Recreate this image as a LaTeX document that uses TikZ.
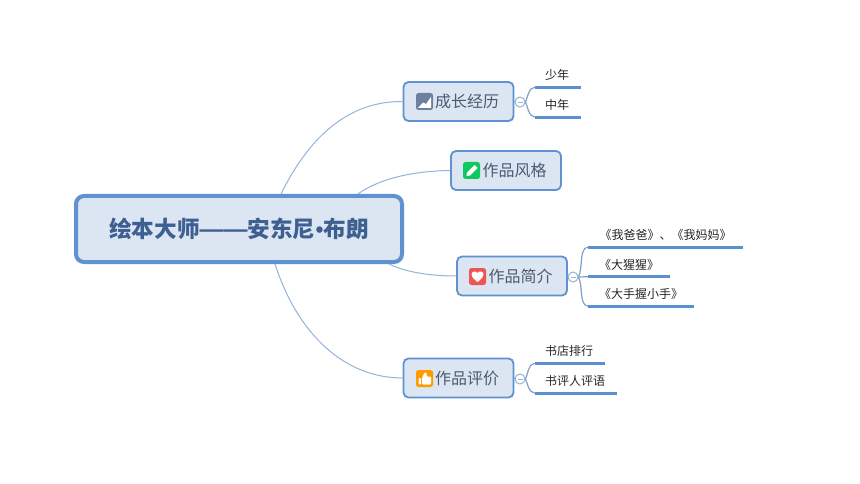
\documentclass[tikz,border=0pt]{standalone}
\usepackage{fontspec}
\setmainfont{Noto Sans CJK SC}
\newfontfamily\latinfont{Liberation Sans}
\definecolor{boxfill}{HTML}{DCE5F2}
\definecolor{boxline}{HTML}{5F92D0}
\definecolor{linkc}{HTML}{94B5DA}
\definecolor{rootc}{HTML}{3D5F91}
\definecolor{branchc}{HTML}{4B5B72}
\definecolor{leafline}{HTML}{5A90D0}
\definecolor{bracec}{HTML}{7FA0C8}
\definecolor{icongrey}{HTML}{6F7F9E}
\definecolor{icongreen}{HTML}{10C860}
\definecolor{iconred}{HTML}{EE5555}
\definecolor{iconorange}{HTML}{FF9A00}
\tikzset{
  x=1pt,y=-1pt,
  rootbox/.style={draw=boxline,line width=4pt,fill=boxfill,rounded corners=8pt,minimum width=326pt,minimum height=66pt,inner sep=0pt,text=rootc,font=\fontsize{22.6}{22.6}\selectfont\bfseries},
  branchbox/.style={draw=boxline,line width=1.8pt,fill=boxfill,rounded corners=5pt,minimum width=110pt,minimum height=39pt,inner sep=0pt,text=branchc,font=\fontsize{16}{16}\selectfont},
  leaf/.style={minimum height=24pt,inner sep=0pt,text=black!85,font=\fontsize{12}{12}\selectfont},
  leafrule/.style={draw=leafline,line width=3pt},
  link/.style={draw=linkc,line width=1pt},
  brace/.style={draw=bracec,line width=1.2pt},
  fold/.style={circle,draw=bracec!80,line width=1pt,fill=white,minimum size=10pt,inner sep=0pt},
  icon/.style={rounded corners=2.5pt,minimum size=17pt,inner sep=0pt},
}
\newcommand{\foldmark}[1]{\draw[draw=bracec!80,line width=.8pt] ([xshift=-2.5pt]#1.center) -- ([xshift=2.5pt]#1.center);}
\newcommand{\leaftext}[1]{\hspace{-2pt}#1}
\begin{document}
\begin{tikzpicture}
\useasboundingbox[fill=white] (0,0) rectangle (860,484);
% nodes
\node[rootbox] (root) at (239,229) {绘本大师{\latinfont\fontsize{24}{24}\selectfont ——}安东尼{\latinfont •}布朗};
\node[branchbox] (b1) at (458.5,101.5) {\hspace{17pt}成长经历};
\node[branchbox] (b2) at (506,170.5) {\hspace{17pt}作品风格};
\node[branchbox] (b3) at (512,276) {\hspace{17pt}作品简介};
\node[branchbox] (b4) at (458.5,378) {\hspace{17pt}作品评价};
% links
\draw[link] ([xshift=42pt]root.north) .. controls (310,135) and (350,101) .. (b1.west);
\draw[link] ([xshift=119pt]root.north) .. controls (380,178) and (415,171) .. (b2.west);
\draw[link] ([xshift=150pt]root.south) .. controls (405,272) and (430,276) .. (b3.west);
\draw[link] ([xshift=36pt]root.south) .. controls (298,335) and (345,378) .. (b4.west);
% icons
\node[icon,fill=icongrey] (i1) at (424.5,101.5) {};
\fill[white] (418,108) -- (423,102.5) -- (426,104) -- (431,97) -- (431,108) -- cycle;
\node[icon,fill=icongreen] (i2) at (471.5,170.5) {};
\fill[white] (466.5,176) -- (467,172.5) -- (474.5,165) -- (477.5,168) -- (470,175.5) -- cycle;
\node[icon,fill=iconred] (i3) at (477.5,276.5) {};
\fill[white] (477.5,282) .. controls (473,278.5) and (471.5,276.5) .. (471.5,274.5) .. controls (471.5,271) and (476,270.5) .. (477.5,273) .. controls (479,270.5) and (483.5,271) .. (483.5,274.5) .. controls (483.5,276.5) and (482,278.5) .. (477.5,282) -- cycle;
\node[icon,fill=iconorange] (i4) at (424.5,378.5) {};
\fill[white,rounded corners=1pt] (418.5,378) rectangle (421,384.5);
\fill[white,rounded corners=1pt] (422,378) -- (424.5,372.5) -- (426.5,372.5) -- (426.5,376.5) -- (431,376.5) -- (431,384.5) -- (422,384.5) -- cycle;
% fold marks
\node[fold] (f1) at (520,102) {};
\node[fold] (f3) at (573,277) {};
\node[fold] (f4) at (520,379) {};
\foldmark{f1}\foldmark{f3}\foldmark{f4}
\draw[brace] (b1.east) -- (f1.west);
\draw[brace] (b3.east) -- (f3.west);
\draw[brace] (b4.east) -- (f4.west);
% leaves
\node[leaf,minimum width=46pt] (l1) at (558,75) {\leaftext{少年}};
\node[leaf,minimum width=46pt] (l2) at (558,105) {\leaftext{中年}};
\node[leaf,minimum width=155pt] (l3) at (665.5,235) {《我爸爸》、《我妈妈》};
\node[leaf,minimum width=82pt] (l4) at (629,264.5) {《大猩猩》};
\node[leaf,minimum width=106pt] (l5) at (641,294) {《大手握小手》};
\node[leaf,minimum width=70pt] (l6) at (570,351) {\leaftext{书店排行}};
\node[leaf,minimum width=82pt] (l7) at (576,381) {\leaftext{书评人评语}};
\foreach \n in {l1,l2,l3,l4,l5,l6,l7}{\draw[leafrule] (\n.south west) -- (\n.south east);}
% fold-to-leaf curves
\draw[brace] (f1.east) .. controls (528,97) and (528,88) .. (l1.south west);
\draw[brace] (f1.east) .. controls (528,107) and (528,116) .. (l2.south west);
\draw[brace] (f3.east) .. controls (583,268) and (579,248) .. (l3.south west);
\draw[brace] (f3.east) -- (l4.south west);
\draw[brace] (f3.east) .. controls (583,286) and (579,305) .. (l5.south west);
\draw[brace] (f4.east) .. controls (528,374) and (528,364) .. (l6.south west);
\draw[brace] (f4.east) .. controls (528,384) and (528,392) .. (l7.south west);
\end{tikzpicture}
\end{document}
